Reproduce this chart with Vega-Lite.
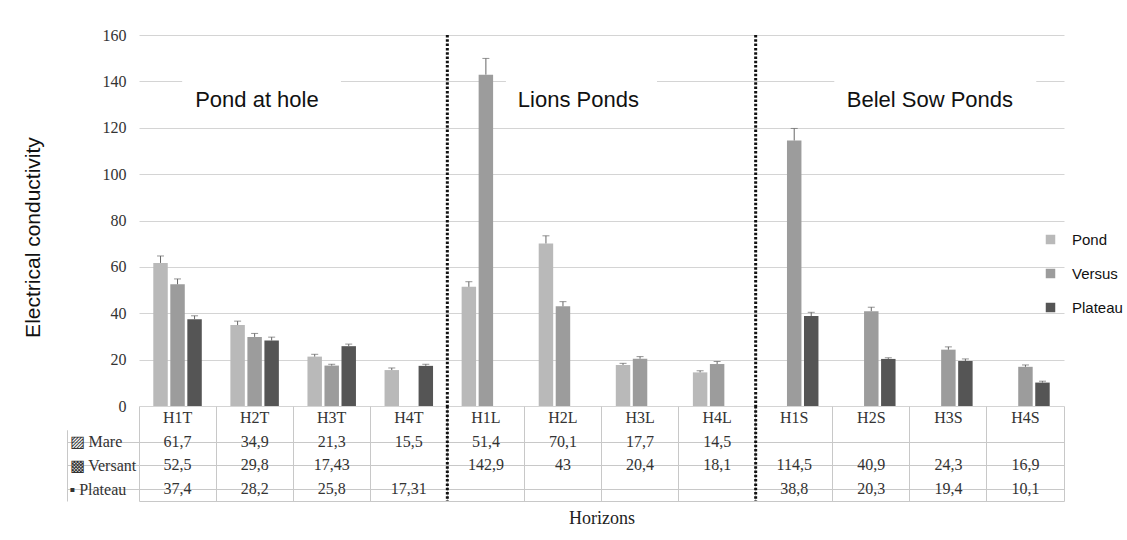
{
  "$schema": "https://vega.github.io/schema/vega-lite/v6.json",
  "padding": {"left": 22, "top": 27, "right": 0, "bottom": 0},
  "background": "white",
  "config": {
    "locale": {"number": {"decimal": ",", "thousands": ".", "grouping": [3], "currency": ["", ""]}},
    "view": {"stroke": null}
  },
  "datasets": {
    "bars": [
      {"horizon": "H1T", "series": "Mare", "value": 61.7, "high": 64.7},
      {"horizon": "H1T", "series": "Versant", "value": 52.5, "high": 54.8},
      {"horizon": "H1T", "series": "Plateau", "value": 37.4, "high": 38.9},
      {"horizon": "H2T", "series": "Mare", "value": 34.9, "high": 36.6},
      {"horizon": "H2T", "series": "Versant", "value": 29.8, "high": 31.3},
      {"horizon": "H2T", "series": "Plateau", "value": 28.2, "high": 29.7},
      {"horizon": "H3T", "series": "Mare", "value": 21.3, "high": 22.3},
      {"horizon": "H3T", "series": "Versant", "value": 17.43, "high": 18.0},
      {"horizon": "H3T", "series": "Plateau", "value": 25.8, "high": 26.7},
      {"horizon": "H4T", "series": "Mare", "value": 15.5, "high": 16.4},
      {"horizon": "H4T", "series": "Plateau", "value": 17.31, "high": 18.0},
      {"horizon": "H1L", "series": "Mare", "value": 51.4, "high": 53.6},
      {"horizon": "H1L", "series": "Versant", "value": 142.9, "high": 149.9},
      {"horizon": "H2L", "series": "Mare", "value": 70.1, "high": 73.4},
      {"horizon": "H2L", "series": "Versant", "value": 43, "high": 45.0},
      {"horizon": "H3L", "series": "Mare", "value": 17.7, "high": 18.4},
      {"horizon": "H3L", "series": "Versant", "value": 20.4, "high": 21.3},
      {"horizon": "H4L", "series": "Mare", "value": 14.5, "high": 15.2},
      {"horizon": "H4L", "series": "Versant", "value": 18.1, "high": 19.2},
      {"horizon": "H1S", "series": "Versant", "value": 114.5, "high": 119.7},
      {"horizon": "H1S", "series": "Plateau", "value": 38.8, "high": 40.4},
      {"horizon": "H2S", "series": "Versant", "value": 40.9, "high": 42.6},
      {"horizon": "H2S", "series": "Plateau", "value": 20.3, "high": 20.8},
      {"horizon": "H3S", "series": "Versant", "value": 24.3, "high": 25.5},
      {"horizon": "H3S", "series": "Plateau", "value": 19.4, "high": 20.3},
      {"horizon": "H4S", "series": "Versant", "value": 16.9, "high": 17.7},
      {"horizon": "H4S", "series": "Plateau", "value": 10.1, "high": 10.7}
    ],
    "horizons": [
      {"horizon": "H1T"}, {"horizon": "H2T"}, {"horizon": "H3T"}, {"horizon": "H4T"},
      {"horizon": "H1L"}, {"horizon": "H2L"}, {"horizon": "H3L"}, {"horizon": "H4L"},
      {"horizon": "H1S"}, {"horizon": "H2S"}, {"horizon": "H3S"}, {"horizon": "H4S"}
    ],
    "separators": [{"horizon": "H1L"}, {"horizon": "H1S"}]
  },
  "spacing": 0,
  "bounds": "flush",
  "resolve": {"legend": {"color": "independent"}},
  "vconcat": [
    {
      "width": 925,
      "height": 371,
      "layer": [
        {
          "data": {"name": "bars"},
          "mark": {"type": "bar"},
          "encoding": {
            "x": {"field": "horizon", "type": "nominal",
              "scale": {"domain": ["H1T","H2T","H3T","H4T","H1L","H2L","H3L","H4L","H1S","H2S","H3S","H4S"], "paddingInner": 0, "paddingOuter": 0},
              "axis": null},
            "xOffset": {"field": "series", "type": "nominal",
              "scale": {"domain": ["Mare", "Versant", "Plateau"], "paddingInner": 0.15, "paddingOuter": 0.84}},
            "y": {"field": "value", "type": "quantitative",
              "scale": {"domain": [0, 160], "nice": false},
              "axis": {
                "title": "Electrical conductivity",
                "titleFont": "Liberation Sans", "titleFontSize": 21, "titleFontWeight": "normal", "titleColor": "#111",
                "titleX": -106, "titleY": 202, "titleBaseline": "middle", "titleAngle": -90,
                "values": [0, 20, 40, 60, 80, 100, 120, 140, 160],
                "grid": true, "gridColor": "#d4d4d4", "domain": false, "ticks": false,
                "labelPadding": 13, "labelFont": "Liberation Serif", "labelFontSize": 16, "labelColor": "#333"
              }},
            "color": {"field": "series", "type": "nominal",
              "scale": {"domain": ["Mare", "Versant", "Plateau"], "range": ["#b9b9b9", "#9c9c9c", "#555555"]},
              "legend": {
                "title": null, "orient": "none", "legendX": 904, "legendY": 197,
                "symbolType": "square", "symbolSize": 90, "symbolStrokeWidth": 0,
                "labelFont": "Liberation Sans", "labelFontSize": 15, "labelColor": "#111",
                "rowPadding": 18, "labelOffset": 14, "padding": 0,
                "labelExpr": "datum.label == 'Mare' ? 'Pond' : datum.label == 'Versant' ? 'Versus' : 'Plateau'"
              }}
          }
        },
        {
          "data": {"name": "bars"},
          "mark": {"type": "rule", "color": "#666", "strokeWidth": 1},
          "encoding": {
            "x": {"field": "horizon", "type": "nominal"},
            "xOffset": {"field": "series", "type": "nominal"},
            "y": {"field": "value", "type": "quantitative"},
            "y2": {"field": "high"}
          }
        },
        {
          "data": {"name": "bars"},
          "mark": {"type": "tick", "color": "#666", "thickness": 1, "size": 7},
          "encoding": {
            "x": {"field": "horizon", "type": "nominal"},
            "xOffset": {"field": "series", "type": "nominal"},
            "y": {"field": "high", "type": "quantitative"}
          }
        },
        {
          "data": {"name": "separators"},
          "mark": {"type": "rule", "color": "#111", "strokeWidth": 3, "strokeDash": [2.5, 1.8]},
          "encoding": {"x": {"field": "horizon", "type": "nominal", "bandPosition": 0}}
        },
        {
          "data": {"values": [{}]},
          "mark": {"type": "rect", "color": "white"},
          "encoding": {
            "x": {"datum": "H1T", "type": "nominal", "bandPosition": 0.56},
            "x2": {"datum": "H3T", "bandPosition": 0.62},
            "y": {"datum": 142, "type": "quantitative"},
            "y2": {"datum": 137.5}
          }
        },
        {
          "data": {"values": [{}]},
          "mark": {"type": "rect", "color": "white"},
          "encoding": {
            "x": {"datum": "H1L", "type": "nominal", "bandPosition": 0.76},
            "x2": {"datum": "H3L", "bandPosition": 0.72},
            "y": {"datum": 142, "type": "quantitative"},
            "y2": {"datum": 137.5}
          }
        },
        {
          "data": {"values": [{}]},
          "mark": {"type": "rect", "color": "white"},
          "encoding": {
            "x": {"datum": "H2S", "type": "nominal", "bandPosition": 0.02},
            "x2": {"datum": "H4S", "bandPosition": 0.64},
            "y": {"datum": 142, "type": "quantitative"},
            "y2": {"datum": 137.5}
          }
        },
        {
          "data": {"values": [{}]},
          "mark": {"type": "text", "font": "Liberation Sans", "fontSize": 22, "color": "#111", "baseline": "middle"},
          "encoding": {
            "x": {"datum": "H2T", "type": "nominal", "bandPosition": 0.53},
            "y": {"datum": 132, "type": "quantitative"},
            "text": {"value": "Pond at hole"}
          }
        },
        {
          "data": {"values": [{}]},
          "mark": {"type": "text", "font": "Liberation Sans", "fontSize": 22, "color": "#111", "baseline": "middle"},
          "encoding": {
            "x": {"datum": "H2L", "type": "nominal", "bandPosition": 0.7},
            "y": {"datum": 132, "type": "quantitative"},
            "text": {"value": "Lions Ponds"}
          }
        },
        {
          "data": {"values": [{}]},
          "mark": {"type": "text", "font": "Liberation Sans", "fontSize": 22, "color": "#111", "baseline": "middle"},
          "encoding": {
            "x": {"datum": "H3S", "type": "nominal", "bandPosition": 0.26},
            "y": {"datum": 132, "type": "quantitative"},
            "text": {"value": "Belel Sow Ponds"}
          }
        }
      ]
    },
    {
      "width": 925,
      "height": 95,
      "layer": [
        {
          "data": {"name": "horizons"},
          "mark": {"type": "text", "font": "Liberation Serif", "fontSize": 16, "color": "#333"},
          "encoding": {
            "x": {"field": "horizon", "type": "nominal",
              "scale": {"domain": ["H1T","H2T","H3T","H4T","H1L","H2L","H3L","H4L","H1S","H2S","H3S","H4S"], "paddingInner": 0, "paddingOuter": 0}},
            "y": {"datum": "H", "type": "nominal",
              "scale": {"domain": ["H", "Mare", "Versant", "Plateau"], "paddingInner": 0, "paddingOuter": 0}},
            "text": {"field": "horizon"}
          }
        },
        {
          "data": {"name": "bars"},
          "mark": {"type": "text", "font": "Liberation Serif", "fontSize": 16, "color": "#333"},
          "encoding": {
            "x": {"field": "horizon", "type": "nominal",
              "scale": {"domain": ["H1T","H2T","H3T","H4T","H1L","H2L","H3L","H4L","H1S","H2S","H3S","H4S"], "paddingInner": 0, "paddingOuter": 0},
              "axis": {
                "title": "Horizons", "titleFont": "Liberation Serif", "titleFontSize": 18, "titleFontWeight": "normal",
                "titleColor": "#222", "titlePadding": 8,
                "labels": false, "ticks": false, "domain": true, "domainColor": "#c8c8c8",
                "grid": true, "gridColor": "#c8c8c8", "bandPosition": 1, "tickExtra": true
              }},
            "y": {"field": "series", "type": "nominal",
              "scale": {"domain": ["H", "Mare", "Versant", "Plateau"], "paddingInner": 0, "paddingOuter": 0},
              "axis": {
                "title": null, "values": ["Mare", "Versant", "Plateau"],
                "bandPosition": 1, "tickExtra": true, "offset": 72, "tickSize": -72, "tickColor": "#c8c8c8",
                "domain": true, "domainColor": "#c8c8c8", "domainDash": [0, 23.75, 71.25, 0],
                "grid": true, "gridColor": "#c8c8c8",
                "labelAlign": "left", "labelPadding": 70, "labelFont": "Liberation Serif", "labelFontSize": 16, "labelColor": "#333",
                "labelExpr": "datum.value == 'Mare' ? '▨ Mare' : datum.value == 'Versant' ? '▩ Versant' : datum.value == 'Plateau' ? '▪ Plateau' : ''"
              }},
            "text": {"field": "value", "type": "quantitative", "format": "~g"}
          }
        },
        {
          "data": {"name": "separators"},
          "mark": {"type": "rule", "color": "#111", "strokeWidth": 3, "strokeDash": [2.5, 1.8]},
          "encoding": {"x": {"field": "horizon", "type": "nominal", "bandPosition": 0}}
        }
      ]
    }
  ]
}
